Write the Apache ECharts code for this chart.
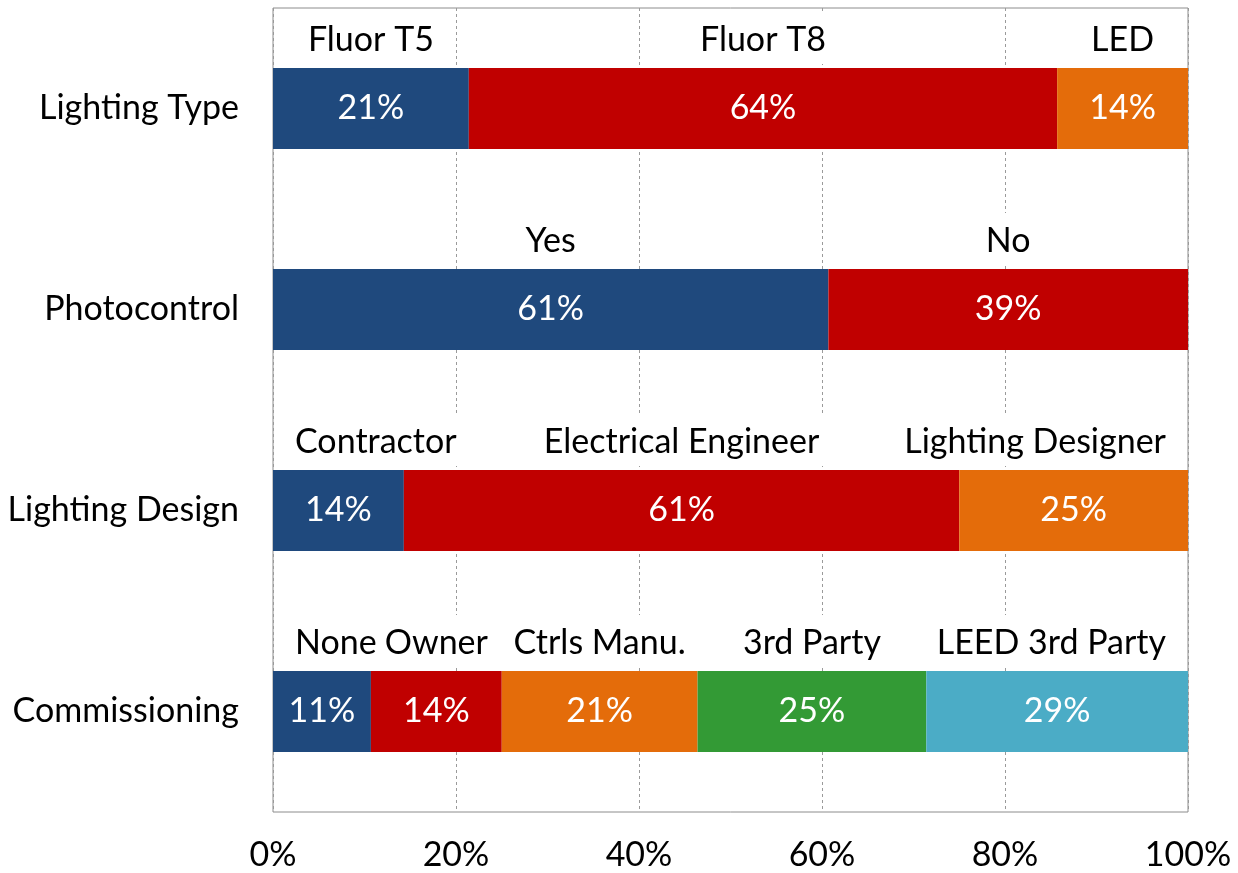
<!DOCTYPE html>
<html>
<head>
<meta charset="utf-8">
<script src="https://cdn.jsdelivr.net/npm/echarts@6/dist/echarts.min.js"></script>
<style>
  html, body { margin: 0; padding: 0; background: #fff; }
  #chart { width: 1238px; height: 873px; }
</style>
</head>
<body>
<div id="chart"></div>
<script>
// rows, top to bottom
var categories = ['Lighting Type', 'Photocontrol', 'Lighting Design', 'Commissioning'];

// share of each segment (%), by segment position; '-' = no segment
var seg1 = [21.4, 60.7, 14.3, 10.7];
var seg2 = [64.3, 39.3, 60.7, 14.3];
var seg3 = [14.3, '-', 25.0, 21.4];
var seg4 = ['-', '-', '-', 25.0];
var seg5 = ['-', '-', '-', 28.6];

// names written above each segment
var names1 = ['Fluor T5', 'Yes', 'Contractor', 'None'];
var names2 = ['Fluor T8', 'No', 'Electrical Engineer', 'Owner'];
var names3 = ['LED', '', 'Lighting Designer', 'Ctrls Manu.'];
var names4 = ['', '', '', '3rd Party'];
var names5 = ['', '', '', 'LEED 3rd Party'];

var xTicks = [0, 20, 40, 60, 80, 100];

var colors = ['#1f497d', '#c00000', '#e46c0a', '#339a35', '#4bacc6'];
var segs = [seg1, seg2, seg3, seg4, seg5];
var names = [names1, names2, names3, names4, names5];

var FONT = 'Lato';
var FS = 34;
var gridLeft = 273, gridRight = 50;
var W = 1238;

var chart = echarts.init(document.getElementById('chart'));

var series = [];
segs.forEach(function (d, i) {
  series.push({
    type: 'bar',
    name: 's' + i,
    stack: 'bars',
    data: d,
    barWidth: 81,
    barGap: '-100%',
    itemStyle: { color: colors[i] },
    label: {
      show: true,
      position: 'inside',
      color: '#fff',
      fontFamily: FONT,
      fontSize: FS,
      formatter: function (p) { return Math.round(p.value) + '%'; }
    },
    silent: true
  });
});
segs.forEach(function (d, i) {
  series.push({
    type: 'bar',
    name: 'n' + i,
    stack: 'names',
    data: d,
    barWidth: 81,
    barGap: '-100%',
    itemStyle: { color: 'rgba(0,0,0,0)' },
    label: {
      show: true,
      position: 'top',
      distance: 4,
      color: '#000',
      fontFamily: FONT,
      fontSize: FS,
      lineHeight: 40,
      backgroundColor: '#fff',
      padding: [8, 6, 4, 6],
      formatter: function (p) { return names[i][p.dataIndex]; }
    },
    // keep the names inside the plot, like the original
    labelLayout: function (p) {
      var r = p.labelRect;
      var half = r.width / 2;
      var c = r.x + half;
      var lo = gridLeft + 16 + half, hi = W - gridRight - 16 - half;
      if (c < lo) c = lo;
      if (c > hi) c = hi;
      return { x: c, y: r.y + r.height, align: 'center', verticalAlign: 'bottom' };
    },
    silent: true
  });
});

chart.setOption({
  animation: false,
  grid: {
    left: gridLeft, right: gridRight, top: 8, bottom: 61,
    show: true, borderColor: '#8c8c8c', borderWidth: 1
  },
  xAxis: {
    type: 'value',
    min: xTicks[0],
    max: xTicks[xTicks.length - 1],
    interval: 20,
    axisLine: { show: false },
    axisTick: { show: false },
    axisLabel: {
      color: '#000', fontFamily: FONT, fontSize: FS, margin: 26,
      formatter: '{value}%'
    },
    splitLine: { lineStyle: { color: '#9a9a9a', type: [3, 3], width: 1 } }
  },
  yAxis: {
    type: 'category',
    data: categories,
    inverse: true,
    axisLine: { show: false },
    axisTick: { show: false },
    axisLabel: { color: '#000', fontFamily: FONT, fontSize: FS, margin: 34 }
  },
  series: series
});
</script>
</body>
</html>
